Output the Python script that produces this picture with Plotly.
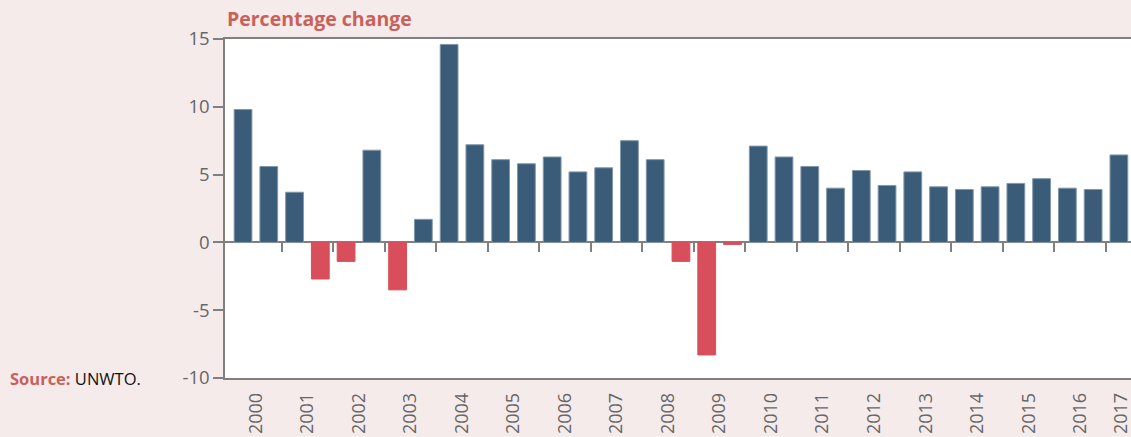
import plotly.graph_objects as go

# Half-yearly percentage change (2000 H1 ... 2017 H1)
years = list(range(2000, 2018))
values = [9.8, 5.6, 3.7, -2.7, -1.4, 6.8, -3.5, 1.7, 14.6, 7.2,
          6.1, 5.8, 6.3, 5.2, 5.5, 7.5, 6.1, -1.4, -8.3, -0.15,
          7.1, 6.3, 5.6, 4.0, 5.3, 4.2, 5.2, 4.1, 3.9, 4.1,
          4.35, 4.7, 4.0, 3.9, 6.45]
y_ticks = [15, 10, 5, 0, -5, -10]

BLUE = "#3A5C78"
RED = "#D94E5B"
GREY = "#808080"
TXT = "#666666"
PAPER = "#F5EBEB"

x = list(range(len(values)))
colors = [BLUE if v >= 0 else RED for v in values]
lines = ["#8197AA" if v >= 0 else RED for v in values]

x_lo, x_hi = -0.7, 34.47
label_pos = [min(2 * i + 0.5, x_hi - 0.4) for i in range(len(years))]
sep_pos = [2 * i + 1.5 for i in range(len(years) - 1)]

fig = go.Figure()
fig.add_trace(go.Bar(
    x=x, y=values,
    marker=dict(color=colors, line=dict(color=lines, width=1)),
    width=0.69, hoverinfo="y", showlegend=False,
))
# invisible trace on the tick axis so it renders
fig.add_trace(go.Scatter(x=[x_lo], y=[0], xaxis="x2", mode="markers",
                         marker=dict(opacity=0), showlegend=False, hoverinfo="skip"))

fig.update_layout(
    width=1131, height=437,
    margin=dict(l=225, r=0, t=39, b=59),
    paper_bgcolor=PAPER, plot_bgcolor="white",
    font=dict(family="Open Sans, sans-serif", color=TXT, size=18),
    xaxis=dict(
        range=[x_lo, x_hi], tickmode="array", tickvals=label_pos,
        ticktext=[str(y) for y in years], tickangle=-90,
        showline=True, mirror=True, linecolor=GREY, linewidth=1.5,
        ticks="outside", ticklen=6, tickcolor="rgba(0,0,0,0)",
        ticklabeloverflow="allow",
        showgrid=False, zeroline=False,
        tickfont=dict(size=18, color=TXT, family="Open Sans, sans-serif"),
    ),
    xaxis2=dict(
        range=[x_lo, x_hi], overlaying="x", anchor="free", position=0.4,
        side="bottom", tickmode="array", tickvals=sep_pos,
        ticks="outside", ticklen=9, tickwidth=1.5, tickcolor=GREY,
        showticklabels=False, showline=False, showgrid=False, zeroline=False,
    ),
    yaxis=dict(
        range=[-10, 15], tickmode="array", tickvals=y_ticks,
        ticktext=[f"{v}" for v in y_ticks],
        showline=True, linecolor=GREY, linewidth=1.5, mirror=False,
        ticks="outside", ticklen=10, tickwidth=1.5, tickcolor=GREY,
        showgrid=False, zeroline=True, zerolinecolor=GREY, zerolinewidth=2,
        tickfont=dict(size=18.5, color=TXT, family="Open Sans, sans-serif"),
    ),
    bargap=0.31,
)

fig.add_annotation(
    text="<b>Percentage change</b>", xref="paper", yref="paper",
    x=0, y=1, xanchor="left", yanchor="bottom", yshift=5, showarrow=False,
    font=dict(size=19.5, color="#C9615A", family="Open Sans, sans-serif"),
)
fig.add_annotation(
    text="<span style='color:#C9615A'><b>Source:</b></span> UNWTO.",
    xref="paper", yref="paper", x=-225 / 906, y=0, xanchor="left", yanchor="middle",
    xshift=8, showarrow=False,
    font=dict(size=16.5, color="#111111", family="Open Sans, sans-serif"),
)

fig.write_html(
    "out.html",
    config={"displayModeBar": False},
    post_script="document.body.style.margin='0';document.body.style.overflow='hidden';",
)
